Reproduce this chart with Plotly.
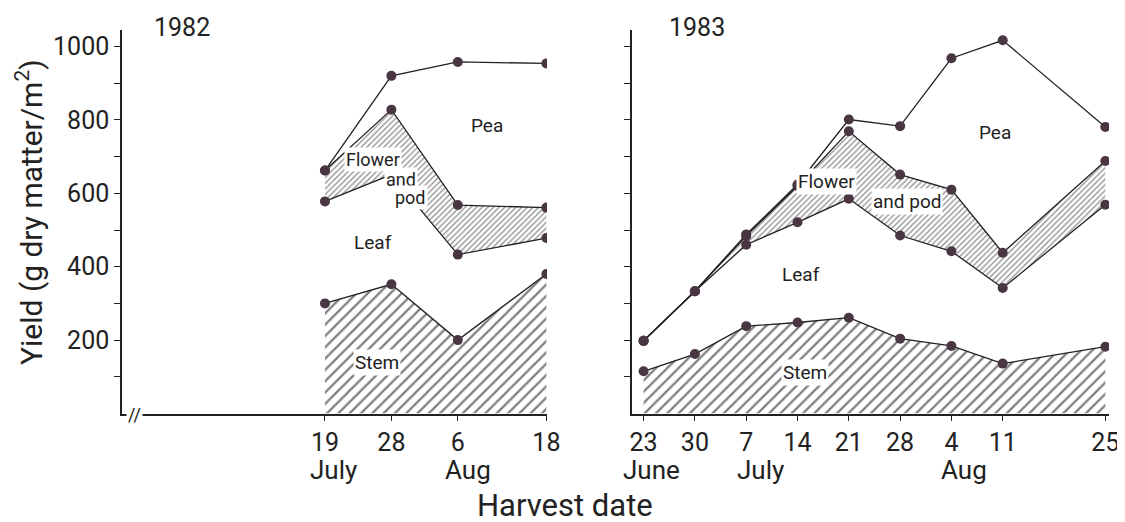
import plotly.graph_objects as go

# ---- data (cumulative layer tops, g dry matter / m2) ----
dates82 = ['1982-07-19', '1982-07-28', '1982-08-06', '1982-08-18']
ticks82 = ['19', '28', '6', '18']
stem82 = [300, 352, 200, 380]
leaf82 = [578, 651, 433, 478]
flower82 = [662, 828, 568, 561]
total82 = [662, 920, 958, 954]

dates83 = ['1983-06-23', '1983-06-30', '1983-07-07', '1983-07-14', '1983-07-21',
           '1983-07-28', '1983-08-04', '1983-08-11', '1983-08-25']
ticks83 = ['23', '30', '7', '14', '21', '28', '4', '11', '25']
stem83 = [115, 162, 238, 248, 261, 204, 184, 136, 182]
leaf83 = [198, 333, 460, 521, 585, 485, 442, 342, 569]
flower83 = [198, 333, 484, 620, 769, 651, 610, 438, 688]
total83 = [198, 333, 488, 624, 801, 783, 968, 1017, 781]

major_y = [200, 400, 600, 800, 1000]
minor_y = [100, 300, 500, 700, 900]

FONT = "Roboto, Liberation Sans, sans-serif"
INK = '#222222'
MARK = '#4a3642'

W, H = 1125, 522
OFF = 8  # page body margin


def px(x):
    return (x - OFF) / W


def py(y):
    return (H - (y - OFF)) / H


fig = go.Figure()


def add_panel(dates, stem, leaf, flower, total, xa, ya):
    mk = dict(color=MARK, size=10)
    ln = dict(color=INK, width=1.3)
    fig.add_trace(go.Scatter(x=dates, y=stem, mode='lines+markers', fill='tozeroy',
                             fillpattern=dict(shape='/', size=8, solidity=0.28,
                                              fgcolor='#000000', bgcolor='white'),
                             line=ln, marker=mk, xaxis=xa, yaxis=ya, showlegend=False))
    fig.add_trace(go.Scatter(x=dates, y=leaf, mode='lines+markers', line=ln, marker=mk,
                             xaxis=xa, yaxis=ya, showlegend=False))
    fig.add_trace(go.Scatter(x=dates, y=flower, mode='lines+markers', fill='tonexty',
                             fillpattern=dict(shape='/', size=4, solidity=0.35,
                                              fgcolor='#2a2a2a', bgcolor='white'),
                             line=ln, marker=mk, xaxis=xa, yaxis=ya, showlegend=False))
    fig.add_trace(go.Scatter(x=dates, y=total, mode='lines+markers', line=ln, marker=mk,
                             xaxis=xa, yaxis=ya, showlegend=False))


add_panel(dates82, stem82, leaf82, flower82, total82, 'x', 'y')
add_panel(dates83, stem83, leaf83, flower83, total83, 'x2', 'y2')

ydom = [py(413.5), py(30)]

axis_common = dict(showline=True, linecolor=INK, linewidth=1.5, ticks='outside',
                   ticklen=6, tickcolor=INK, showgrid=False, zeroline=False,
                   tickfont=dict(family=FONT, size=25, color=INK), automargin=False)
minor_y_ticks = dict(tickvals=minor_y, ticks='outside', ticklen=6, tickcolor=INK, showgrid=False)

fig.update_layout(
    width=W, height=H, margin=dict(l=0, r=0, t=0, b=0),
    paper_bgcolor='white', plot_bgcolor='white',
    xaxis=dict(domain=[px(122), px(547)], range=['1982-06-21 12:00', '1982-08-18 02:00'],
               type='date', tickvals=dates82, ticktext=ticks82, anchor='y', **axis_common),
    yaxis=dict(domain=ydom, range=[0, 1045], tickvals=major_y, minor=minor_y_ticks,
               anchor='x', **axis_common),
    xaxis2=dict(domain=[px(632), px(1109)], range=['1983-06-21 10:00', '1983-08-25 12:00'],
                type='date', tickvals=dates83, ticktext=ticks83, anchor='y2', **axis_common),
    yaxis2=dict(domain=ydom, range=[0, 1045], tickvals=major_y, minor=minor_y_ticks,
                showticklabels=False, anchor='x2', **axis_common),
)

ann = []


def label(text, x, y, xref, yref, size=19, bg='white', **kw):
    ann.append(dict(text=text, x=x, y=y, xref=xref, yref=yref, showarrow=False,
                    xanchor='center', yanchor='middle',
                    font=dict(family=FONT, size=size, color=INK), bgcolor=bg, borderpad=1, **kw))


# region labels 1982
label('Pea', '1982-08-10', 785, 'x', 'y')
label('Flower', '1982-07-25 12:00', 692, 'x', 'y', size=18)
label('and', '1982-07-29 08:00', 638, 'x', 'y', size=18)
label('pod', '1982-07-30 14:00', 589, 'x', 'y', size=18)
label('Leaf', '1982-07-25 12:00', 466, 'x', 'y')
label('Stem', '1982-07-26', 139, 'x', 'y')
# region labels 1983
label('Pea', '1983-08-10', 766, 'x2', 'y2')
label('Flower', '1983-07-18', 632, 'x2', 'y2')
label('and pod', '1983-07-29', 578, 'x2', 'y2')
label('Leaf', '1983-07-14 10:00', 379, 'x2', 'y2')
label('Stem', '1983-07-15', 112, 'x2', 'y2')

# years
label('1982', px(182), py(28), 'paper', 'paper', size=25, bg='rgba(0,0,0,0)')
label('1983', px(697), py(28), 'paper', 'paper', size=25, bg='rgba(0,0,0,0)')

# month labels
for txt, x, xr, sh in [('July', '1982-07-19', 'x', 9), ('Aug', '1982-08-06', 'x', 10),
                       ('June', '1983-06-23', 'x2', 8), ('July', '1983-07-07', 'x2', 14),
                       ('Aug', '1983-08-04', 'x2', 13)]:
    label(txt, x, py(470), xr, 'paper', size=26, bg='rgba(0,0,0,0)', xshift=sh)

# axis titles
label('Harvest date', px(565), py(505), 'paper', 'paper', size=31, bg='rgba(0,0,0,0)')
label('Yield (g dry matter/m<sup>2</sup>)', px(30), py(212), 'paper', 'paper', size=30,
      bg='rgba(0,0,0,0)', textangle=-90)
# axis break
label('//', px(134), py(414), 'paper', 'paper', size=18, bg='white')

fig.update_layout(annotations=ann)
fig.write_html('out.html')
